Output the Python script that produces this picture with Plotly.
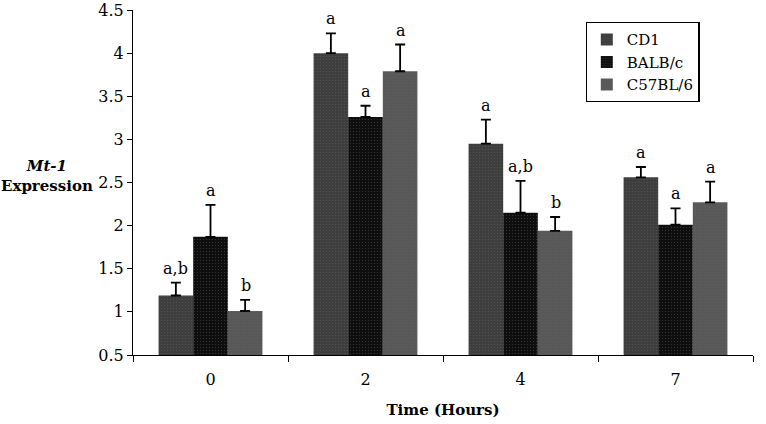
import plotly.graph_objects as go

categories = ["0", "2", "4", "7"]
series_names = ["CD1", "BALB/c", "C57BL/6"]
cd1 = [1.19, 4.00, 2.95, 2.56]
balbc = [1.87, 3.26, 2.15, 2.01]
c57 = [1.01, 3.79, 1.94, 2.27]
cd1_err = [0.15, 0.23, 0.28, 0.12]
balbc_err = [0.37, 0.13, 0.37, 0.19]
c57_err = [0.13, 0.31, 0.16, 0.24]
cd1_sig = ["a,b", "a", "a", "a"]
balbc_sig = ["a", "a", "a,b", "a"]
c57_sig = ["b", "a", "b", "a"]
y_ticks = [0.5, 1, 1.5, 2, 2.5, 3, 3.5, 4, 4.5]

colors = ["#3e3e3e", "#0e0e0e", "#585858"]
values = [cd1, balbc, c57]
errs = [cd1_err, balbc_err, c57_err]
sigs = [cd1_sig, balbc_sig, c57_sig]

FONT = "DejaVu Serif"
fig = go.Figure()
for name, v, e, col in zip(series_names, values, errs, colors):
    fig.add_trace(go.Bar(
        name=name, x=categories, y=[val - 0.5 for val in v], base=0.5,
        marker=dict(color=col, line=dict(width=0),
                    pattern=dict(shape=".", fgcolor="#6a6a6a", size=3, solidity=0.1)),
        error_y=dict(type="data", symmetric=False, array=e,
                     arrayminus=[0] * len(e), color="black", thickness=1.8, width=5),
    ))

bar_px = 35
for i, (v, e, s) in enumerate(zip(values, errs, sigs)):
    for j in range(len(categories)):
        fig.add_annotation(x=j, y=v[j] + e[j], text=s[j], showarrow=False,
                           xref="x", yref="y", xanchor="center", yanchor="bottom",
                           xshift=(i - 1) * bar_px, yshift=3,
                           font=dict(family=FONT, size=16, color="black"))

fig.add_annotation(x=-0.139, y=2.57, xref="paper", yref="y",
                   text="<b><i>Mt-1</i></b><br><b>Expression</b>", showarrow=False,
                   xanchor="center", yanchor="middle", align="center",
                   font=dict(family=FONT, size=15, color="black"))

fig.update_layout(
    width=766, height=424,
    margin=dict(l=133, r=13, t=10, b=69, autoexpand=False),
    paper_bgcolor="white", plot_bgcolor="white",
    barmode="group", bargap=0.33, bargroupgap=0,
    font=dict(family=FONT, size=16, color="black"),
    legend=dict(x=0.73, y=0.965, xanchor="left", yanchor="top",
                bordercolor="black", borderwidth=1.2, bgcolor="white",
                font=dict(family=FONT, size=15), itemwidth=30,
                tracegroupgap=4),
    showlegend=True,
)
fig.update_xaxes(type="category", range=[-0.5, 3.5], showline=True, linecolor="black",
                 linewidth=1.2, ticks="outside", tickson="boundaries", ticklen=6,
                 tickcolor="black", tickfont=dict(family=FONT, size=16),
                 ticklabelstandoff=10,
                 title=dict(text="<b>Time (Hours)</b>", font=dict(family=FONT, size=15), standoff=16))
fig.update_yaxes(range=[0.5, 4.5], tickvals=y_ticks, ticktext=[str(t) for t in y_ticks],
                 showline=True, linecolor="black", linewidth=1.2, showgrid=False,
                 zeroline=False, ticks="outside", ticklen=5, tickcolor="black",
                 tickfont=dict(family=FONT, size=16))

fig.write_html("out.html", config={"displayModeBar": False},
               post_script="document.body.style.margin='0';")
